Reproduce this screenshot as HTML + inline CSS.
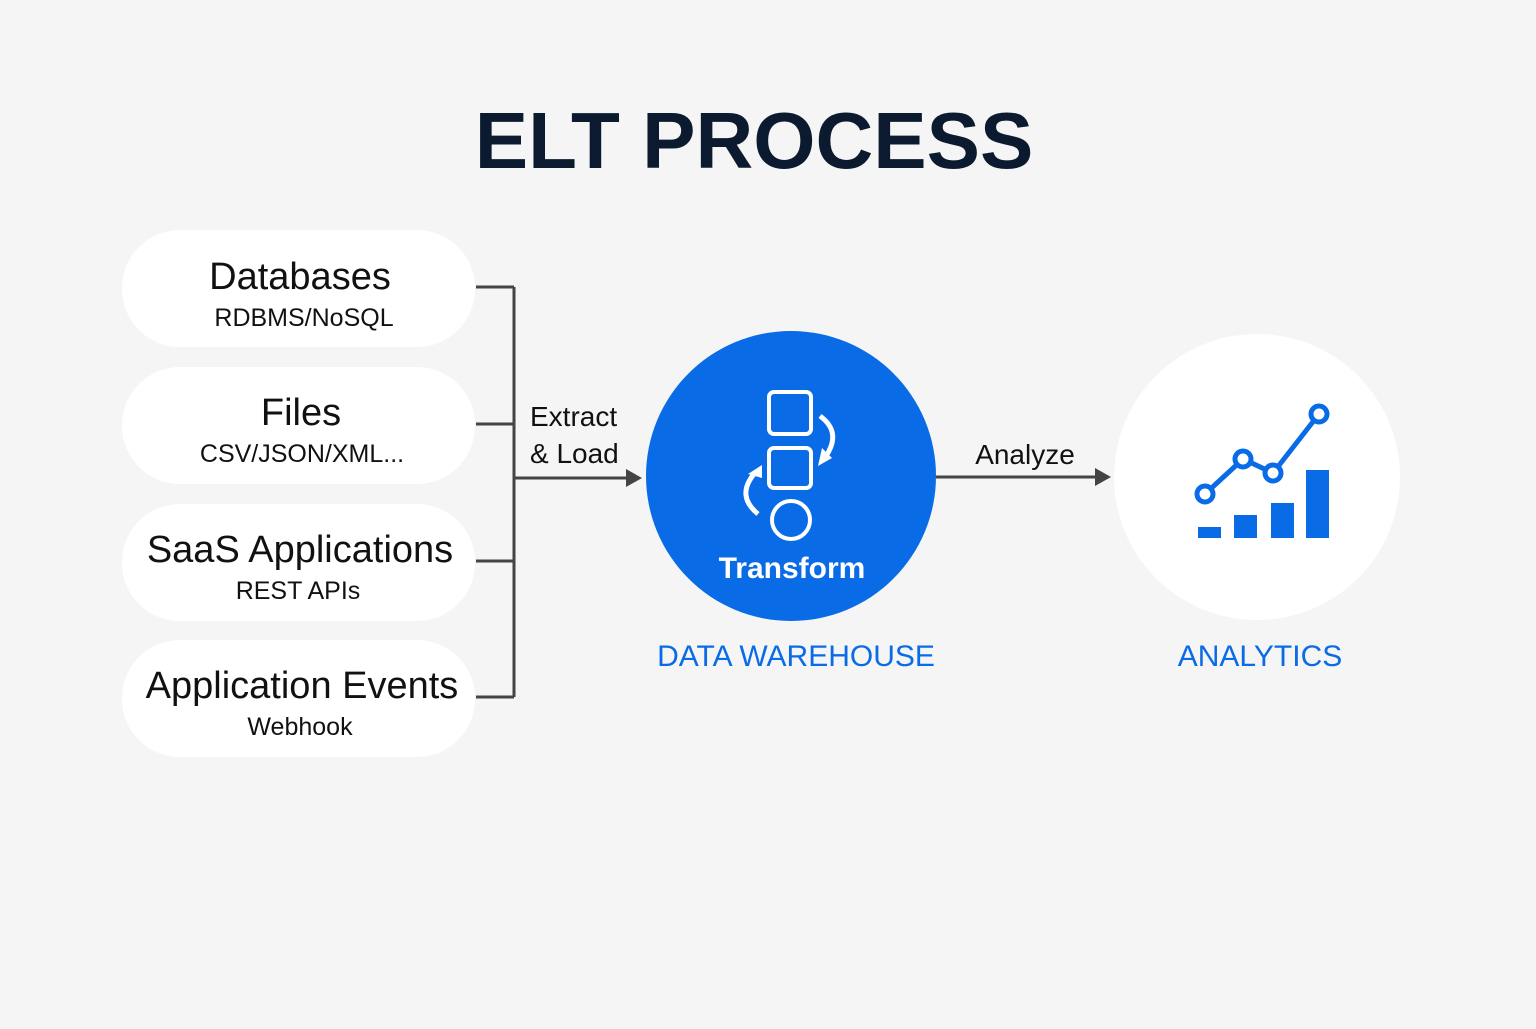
<!DOCTYPE html>
<html><head><style>body{margin:0;background:#f5f5f5}</style></head><body>
<svg width="1536" height="1024" xmlns="http://www.w3.org/2000/svg" font-family="Liberation Sans, sans-serif">
<rect width="1536" height="1024" fill="#f5f5f5"/>
<text x="754" y="168" text-anchor="middle" font-size="80" font-weight="bold" fill="#0b1a2e">ELT PROCESS</text>
<g fill="#fff">
<rect x="122" y="230" width="353" height="117" rx="58"/>
<rect x="122" y="367" width="353" height="117" rx="58"/>
<rect x="122" y="504" width="353" height="117" rx="58"/>
<rect x="122" y="640" width="353" height="117" rx="58"/>
</g>
<g text-anchor="middle" fill="#111">
<text x="300" y="289" font-size="38">Databases</text><text x="304" y="326" font-size="25">RDBMS/NoSQL</text>
<text x="301" y="425" font-size="38">Files</text><text x="302" y="462" font-size="25">CSV/JSON/XML...</text>
<text x="300" y="562" font-size="38">SaaS Applications</text><text x="298" y="599" font-size="25">REST APIs</text>
<text x="302" y="698" font-size="38">Application Events</text><text x="300" y="735" font-size="25">Webhook</text>
</g>
<g stroke="#444" stroke-width="3" fill="none">
<path d="M476 287H514M476 424H514M476 561H514M476 697H514M514 287V697M514 478H628"/>
<path d="M936 477H1096"/>
</g>
<polygon points="642,478 626,469 626,487" fill="#444"/>
<polygon points="1111,477 1095,468 1095,486" fill="#444"/>
<text x="530" y="426" font-size="28" fill="#111">Extract</text>
<text x="530" y="463" font-size="28" fill="#111">&amp; Load</text>
<text x="1025" y="464" font-size="28" fill="#111" text-anchor="middle">Analyze</text>
<circle cx="791" cy="476" r="145" fill="#0a6be6"/>
<g stroke="#fff" stroke-width="4" fill="none">
<rect x="769" y="392" width="42" height="42" rx="5"/>
<rect x="769" y="448" width="42" height="40" rx="5"/>
<circle cx="791" cy="520" r="19"/>
<path d="M820 416 Q842 432 826 456" stroke-width="5"/>
<path d="M758 514 Q736 496 754 474" stroke-width="5"/>
</g>
<polygon points="818,466 822,448 832,458" fill="#fff"/>
<polygon points="762,465 748,474 762,478" fill="#fff"/>
<text x="792" y="578" font-size="30" font-weight="bold" fill="#fff" text-anchor="middle">Transform</text>
<text x="796" y="666" font-size="30" fill="#0a6be6" text-anchor="middle">DATA WAREHOUSE</text>
<circle cx="1257" cy="477" r="143" fill="#fff"/>
<g fill="#0a6be6">
<rect x="1198" y="527" width="23" height="11"/>
<rect x="1234" y="515" width="23" height="23"/>
<rect x="1271" y="503" width="23" height="35"/>
<rect x="1306" y="470" width="23" height="68"/>
</g>
<g stroke="#0a6be6" stroke-width="5" fill="#fff">
<path d="M1205 494L1243 459L1273 473L1319 414" fill="none"/>
<circle cx="1205" cy="494" r="8"/><circle cx="1243" cy="459" r="8"/><circle cx="1273" cy="473" r="8"/><circle cx="1319" cy="414" r="8"/>
</g>
<text x="1260" y="666" font-size="30" fill="#0a6be6" text-anchor="middle">ANALYTICS</text>
</svg>
</body></html>
